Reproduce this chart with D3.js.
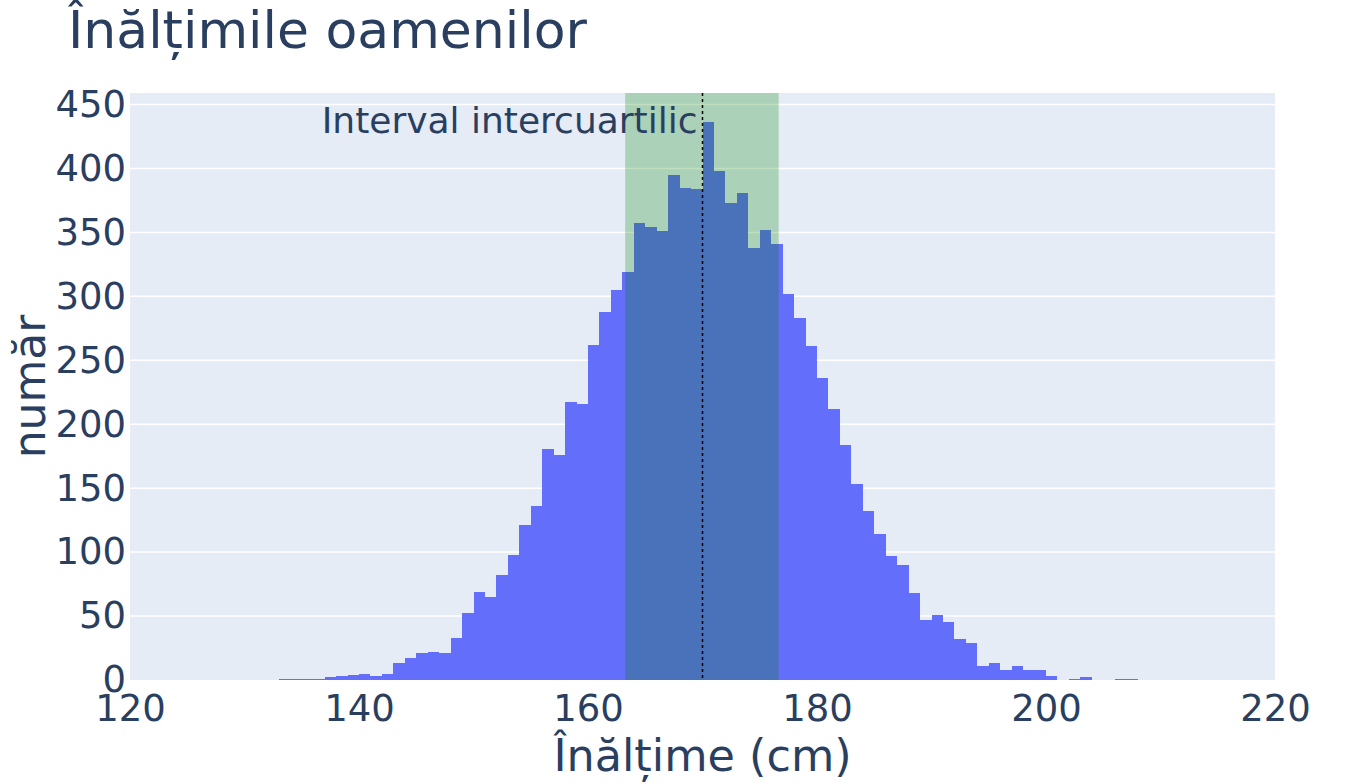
<!DOCTYPE html>
<html>
<head>
<meta charset="utf-8">
<script src="https://cdn.jsdelivr.net/npm/d3@7"></script>
<style>
    body { margin: 0; background: #fff; }
    text { font-family: "DejaVu Sans", Verdana, sans-serif; fill: #2a3f5f; }
</style>
</head>
<body>
<script>
// bin left edges (cm), bin width is 1 cm
var binEdges = [133, 134, 135, 136, 137, 138, 139, 140, 141, 142, 143, 144, 145, 146, 147, 148, 149,
    150, 151, 152, 153, 154, 155, 156, 157, 158, 159, 160, 161, 162, 163, 164, 165, 166, 167, 168, 169,
    170, 171, 172, 173, 174, 175, 176, 177, 178, 179, 180, 181, 182, 183, 184, 185, 186, 187, 188, 189,
    190, 191, 192, 193, 194, 195, 196, 197, 198, 199, 200, 201, 202, 203, 204, 205, 206, 207];

// counts per bin
var counts = [1, 1, 1, 1, 2, 3, 4, 5, 3, 5, 13, 17, 21, 22, 21, 33, 52,
    69, 65, 82, 98, 121, 136, 181, 176, 217, 216, 262, 288, 305, 319, 357, 354, 351, 395, 385, 384,
    436, 398, 373, 381, 338, 352, 341, 302, 283, 261, 236, 212, 184, 153, 132, 114, 97, 90, 68, 47,
    51, 45, 32, 29, 11, 13, 8, 11, 8, 8, 3, 0, 1, 2, 0, 0, 1, 1];

var binWidth = 1;

// quartiles and median
var iqr = [163.25, 176.65];
var median = 170;

// ticks
var xTicks = [120, 140, 160, 180, 200, 220];
var yTicks = [0, 50, 100, 150, 200, 250, 300, 350, 400, 450];

var xDomain = [120, 220],
    yDomain = [0, 459];

// init
var margin  = { top: 93, right: 75, bottom: 104, left: 130 },
    width   = 1350,
    height  = 784;

var xScale = d3.scaleLinear().domain(xDomain).range([margin.left, width - margin.right]);
var yScale = d3.scaleLinear().domain(yDomain).range([height - margin.bottom, margin.top]);

var svg = d3.select('body')
    .append('svg')
    .attr('width', width)
    .attr('height', height);

var bins = binEdges.map(function (d, i) {
    return { x0: d, x1: d + binWidth, n: counts[i] };
});

/**
 * plot background and grid
 */
function drawBackground() {
    svg.append('rect')
        .attr('x', margin.left)
        .attr('y', margin.top)
        .attr('width', xScale.range()[1] - margin.left)
        .attr('height', yScale.range()[0] - margin.top)
        .attr('fill', '#E5ECF6');

    svg.append('g')
        .selectAll('line')
        .data(yTicks.filter(function (d) { return d > 0; }))
        .join('line')
        .attr('stroke', '#fff')
        .attr('stroke-width', 1.5)
        .attr('x1', xScale.range()[0])
        .attr('x2', xScale.range()[1])
        .attr('y1', function (d) { return yScale(d); })
        .attr('y2', function (d) { return yScale(d); });
}

/**
 * histogram bars
 */
function drawBars() {
    svg.append('g')
        .attr('shape-rendering', 'crispEdges')
        .selectAll('rect')
        .data(bins.filter(function (d) { return d.n > 0; }))
        .join('rect')
        .attr('x', function (d) { return xScale(d.x0); })
        .attr('width', function (d) { return xScale(d.x1) - xScale(d.x0); })
        .attr('y', function (d) { return yScale(d.n); })
        .attr('height', function (d) { return yScale(0) - yScale(d.n); })
        .attr('fill', '#636EFA');
}

/**
 * interquartile band, median line and note
 */
function drawIqr() {
    svg.append('rect')
        .attr('x', xScale(iqr[0]))
        .attr('width', xScale(iqr[1]) - xScale(iqr[0]))
        .attr('y', margin.top)
        .attr('height', yScale(0) - margin.top)
        .attr('fill', 'green')
        .attr('opacity', 0.25);

    svg.append('line')
        .attr('x1', xScale(median))
        .attr('x2', xScale(median))
        .attr('y1', margin.top)
        .attr('y2', yScale(0))
        .attr('stroke', '#000')
        .attr('stroke-width', 1.5)
        .attr('stroke-dasharray', '3,3');

    svg.append('text')
        .attr('x', xScale(median) - 5)
        .attr('y', 133)
        .attr('text-anchor', 'end')
        .attr('font-size', 36)
        .text('Interval intercuartilic');
}

/**
 * axes
 */
function drawAxes() {
    var x_axis = d3.axisBottom(xScale).tickValues(xTicks).tickSize(0).tickPadding(15);
    var gx = svg.append('g')
        .attr('transform', 'translate(0,' + yScale(0) + ')')
        .call(x_axis);
    gx.select('.domain').remove();
    gx.selectAll('text')
        .attr('font-size', 37)
        .attr('fill', '#2a3f5f')
        .attr('dy', '0.71em');

    var y_axis = d3.axisLeft(yScale).tickValues(yTicks).tickSize(0).tickPadding(4);
    var gy = svg.append('g')
        .attr('transform', 'translate(' + margin.left + ',0)')
        .call(y_axis);
    gy.select('.domain').remove();
    gy.selectAll('text')
        .attr('font-size', 37)
        .attr('fill', '#2a3f5f');

    // axis titles
    svg.append('text')
        .attr('x', (xScale.range()[0] + xScale.range()[1]) / 2)
        .attr('y', 771)
        .attr('text-anchor', 'middle')
        .attr('font-size', 44.5)
        .text('Înălțime (cm)');

    svg.append('text')
        .attr('transform', 'translate(45,' + (yScale(0) + margin.top) / 2 + ') rotate(-90)')
        .attr('text-anchor', 'middle')
        .attr('font-size', 44)
        .text('număr');

    // title
    svg.append('text')
        .attr('x', 68)
        .attr('y', 48)
        .attr('font-size', 52)
        .text('Înălțimile oamenilor');
}

function draw() {
    drawBackground();
    drawBars();
    drawIqr();
    drawAxes();
}

draw();
</script>
</body>
</html>
